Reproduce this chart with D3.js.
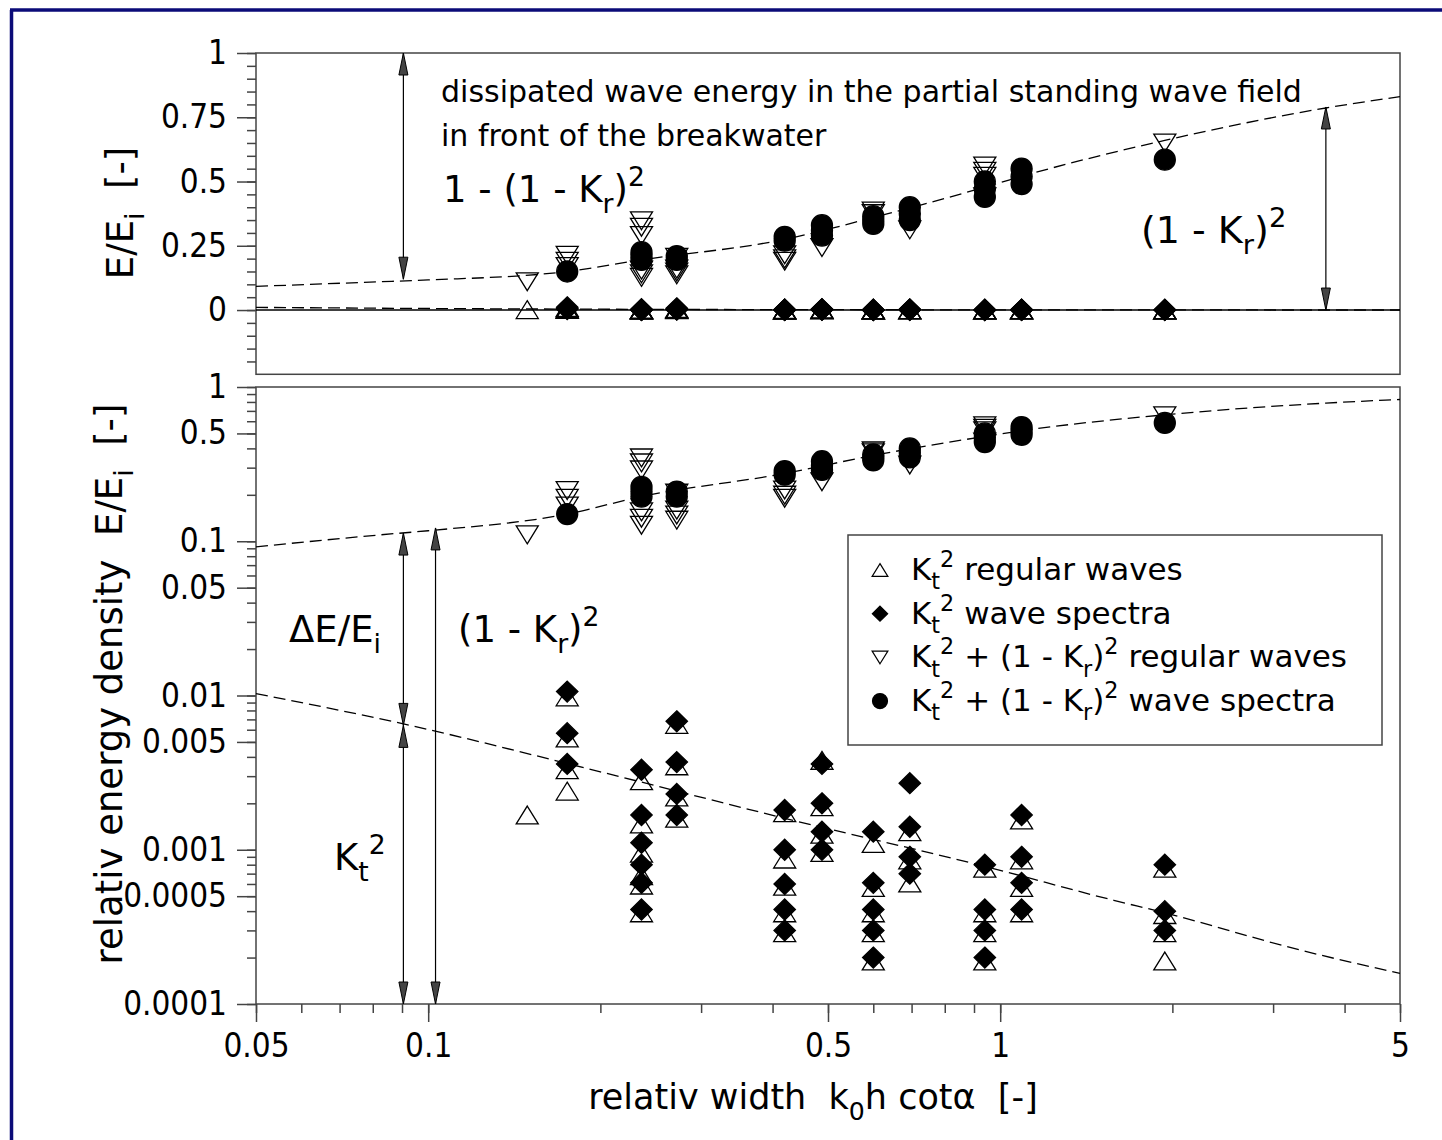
<!DOCTYPE html>
<html>
<head>
<meta charset="utf-8">
<script src="https://cdn.jsdelivr.net/npm/d3@7"></script>
<style>
  body { margin: 0; background: #fff; }
  svg text { font-family: "DejaVu Sans", sans-serif; fill: #000; white-space: pre; }
  svg .tick text { font-family: "DejaVu Sans Condensed", "DejaVu Sans", sans-serif; font-stretch: condensed; }
</style>
</head>
<body>
<svg id="chart" width="1442" height="1140"></svg>
<script>
// column positions (k0h cot alpha) of the test series
var colX = [0.149, 0.175, 0.236, 0.272, 0.42, 0.488, 0.60, 0.695, 0.94, 1.09, 1.94];

// Kt^2 regular waves (open up-triangles)
var ktRegular = [
  [0.00168],
  [0.0098, 0.0053, 0.0033, 0.0024],
  [0.0028, 0.00147, 0.00095, 0.00068, 0.00059, 0.00039],
  [0.0065, 0.0035, 0.0022, 0.0016],
  [0.00174, 0.00087, 0.00058, 0.00039, 0.00029],
  [0.0038, 0.0019, 0.00126, 0.00096],
  [0.0011, 0.00057, 0.00039, 0.00029, 0.00019],
  [0.00131, 0.00086, 0.00061],
  [0.00076, 0.00039, 0.00029, 0.00019],
  [0.00156, 0.00086, 0.00057, 0.00039],
  [0.00076, 0.00038, 0.00029, 0.00019]
];

// Kt^2 wave spectra (filled diamonds)
var ktSpectra = [
  [],
  [0.0106, 0.0057, 0.0036],
  [0.0033, 0.00168, 0.00111, 0.0008, 0.00061, 0.00041],
  [0.0068, 0.0037, 0.0023, 0.00168],
  [0.00181, 0.001, 0.0006, 0.00041, 0.0003],
  [0.0036, 0.002, 0.00131, 0.001],
  [0.00131, 0.00061, 0.00041, 0.0003, 0.0002],
  [0.0027, 0.00141, 0.0009, 0.0007],
  [0.0008, 0.00041, 0.0003, 0.0002],
  [0.00168, 0.0009, 0.00061, 0.00041],
  [0.0008, 0.0004, 0.0003]
];

// Kt^2 + (1-Kr)^2 regular waves (open down-triangles)
var sumRegular = [
  [0.11],
  [0.213, 0.19, 0.169],
  [0.347, 0.322, 0.29, 0.155, 0.141, 0.127],
  [0.205, 0.159, 0.148, 0.137],
  [0.215, 0.199, 0.19],
  [0.243],
  [0.385, 0.375],
  [0.312],
  [0.56, 0.54, 0.52, 0.44],
  [],
  [0.65]
];

// Kt^2 + (1-Kr)^2 wave spectra (filled circles)
var sumSpectra = [
  [],
  [0.15],
  [0.225, 0.21, 0.195],
  [0.21, 0.195],
  [0.285, 0.27],
  [0.33, 0.31, 0.29],
  [0.365, 0.35, 0.335],
  [0.40, 0.375, 0.35],
  [0.5, 0.47, 0.44],
  [0.55, 0.52, 0.49],
  [0.585]
];

// dashed trend curves
var upperCurveX = [0.05, 0.0824, 0.1, 0.175, 0.236, 0.42, 0.6, 0.94, 1.09, 1.94, 3.71, 5];
var upperCurveY = [0.092, 0.110, 0.117, 0.15, 0.195, 0.275, 0.36, 0.478, 0.52, 0.66, 0.786, 0.83];
var lowerCurveX = [0.05, 0.093, 0.2, 0.42, 0.94, 1.58, 1.94, 3.34, 5];
var lowerCurveY = [0.0103, 0.0064, 0.0032, 0.0016, 0.00078, 0.00047, 0.00039, 0.000224, 0.000158];

// tick labels
var xTickLabels = [0.05, 0.1, 0.5, 1, 5];
var topTickLabels = [0, 0.25, 0.5, 0.75, 1];
var botTickLabels = [0.0001, 0.0005, 0.001, 0.005, 0.01, 0.05, 0.1, 0.5, 1];

var FS = 33; // tick label size

var svg = d3.select("#chart");

var x = d3.scaleLog().domain([0.05, 5]).range([256, 1400]);
var yTop = d3.scaleLinear().domain([-0.25, 1]).range([374.3, 53]);
var yBot = d3.scaleLog().domain([0.0001, 1]).range([1004, 387]);

// navy frame (top and left only)
svg.append("line").attr("x1", 10).attr("x2", 1442).attr("y1", 10).attr("y2", 10)
  .attr("stroke", "#0b0b78").attr("stroke-width", 3.5);
svg.append("line").attr("x1", 11.5).attr("x2", 11.5).attr("y1", 10).attr("y2", 1140)
  .attr("stroke", "#0b0b78").attr("stroke-width", 3.5);

// write text with sub/superscripts
function richText(sel, px, py, parts, size, anchor, rotate) {
  var t = sel.append("text").attr("x", px).attr("y", py).style("font-size", size + "px");
  if (anchor) t.attr("text-anchor", anchor);
  if (rotate) t.attr("transform", "rotate(-90," + px + "," + py + ")");
  var cur = 0;
  parts.forEach(function(p) {
    var s = (typeof p === "string") ? { t: p } : p;
    var off = 0, fs = size;
    if (s.sub) { off = 0.3 * size; fs = 0.72 * size; }
    if (s.sup) { off = -0.42 * size; fs = 0.72 * size; }
    t.append("tspan").attr("dy", off - cur).style("font-size", fs + "px").text(s.t);
    cur = off;
  });
  return t;
}

function minorLog(lo, hi) {
  var out = [];
  for (var e = lo; e < hi; e++) {
    for (var m = 1; m < 10; m++) out.push(m * Math.pow(10, e));
  }
  out.push(Math.pow(10, hi));
  return out;
}

// ---------- axes ----------
var axisColor = "#444";

function styleAxis(g) {
  g.select(".domain").remove();
  g.selectAll("line").attr("stroke", axisColor).attr("stroke-width", 1.5);
  g.selectAll("text").style("font-size", FS + "px");
}

// top panel y
var topMinor = d3.range(-4, 21).map(function(i) { return i * 0.05; });
svg.append("g").attr("transform", "translate(256,0)")
  .call(d3.axisLeft(yTop).tickValues(topMinor).tickSize(9).tickFormat(""))
  .call(styleAxis);
svg.append("g").attr("transform", "translate(256,0)")
  .call(d3.axisLeft(yTop).tickValues(topTickLabels).tickSize(19).tickPadding(10)
    .tickFormat(function(d) { return d3.format("")(d); }))
  .call(styleAxis);

// bottom panel y
svg.append("g").attr("transform", "translate(256,0)")
  .call(d3.axisLeft(yBot).tickValues(minorLog(-4, 0)).tickSize(9).tickFormat(""))
  .call(styleAxis);
svg.append("g").attr("transform", "translate(256,0)")
  .call(d3.axisLeft(yBot).tickValues(botTickLabels).tickSize(19).tickPadding(10)
    .tickFormat(function(d) { return String(d); }))
  .call(styleAxis);

// x axis (bottom panel)
var xMinor = [0.05, 0.06, 0.07, 0.08, 0.09, 0.1, 0.2, 0.3, 0.4, 0.5, 0.6, 0.7, 0.8, 0.9, 1, 2, 3, 4, 5];
svg.append("g").attr("transform", "translate(0,1004)")
  .call(d3.axisBottom(x).tickValues(xMinor).tickSize(9).tickFormat(""))
  .call(styleAxis);
svg.append("g").attr("transform", "translate(0,1004)")
  .call(d3.axisBottom(x).tickValues(xTickLabels).tickSize(18).tickPadding(12)
    .tickFormat(function(d) { return String(d); }))
  .call(styleAxis);

// panel frames
svg.append("rect").attr("x", 256).attr("y", yTop(1)).attr("width", 1144).attr("height", yTop(-0.25) - yTop(1))
  .attr("fill", "none").attr("stroke", axisColor).attr("stroke-width", 1.5);
svg.append("rect").attr("x", 256).attr("y", yBot(1)).attr("width", 1144).attr("height", yBot(0.0001) - yBot(1))
  .attr("fill", "none").attr("stroke", axisColor).attr("stroke-width", 1.5);

// zero line
svg.append("line").attr("x1", x(0.05)).attr("x2", x(5)).attr("y1", yTop(0)).attr("y2", yTop(0))
  .attr("stroke", "#000").attr("stroke-width", 1.6);

// ---------- curves ----------
function curvePoints(xs, ys) {
  return xs.map(function(d, i) { return [d, ys[i]]; });
}
function drawCurve(yScale, pts) {
  var line = d3.line()
    .x(function(d) { return x(d[0]); })
    .y(function(d) { return yScale(d[1]); })
    .curve(d3.curveMonotoneX);
  svg.append("path").attr("d", line(pts))
    .attr("fill", "none").attr("stroke", "#000").attr("stroke-width", 1.3)
    .attr("stroke-dasharray", "12,6");
}
var upperPts = curvePoints(upperCurveX, upperCurveY);
var lowerPts = curvePoints(lowerCurveX, lowerCurveY);
drawCurve(yTop, upperPts);
drawCurve(yTop, lowerPts);
drawCurve(yBot, upperPts);
drawCurve(yBot, lowerPts);

// ---------- markers ----------
function flatten(arr) {
  var out = [];
  arr.forEach(function(vals, i) {
    vals.forEach(function(v) { out.push({ x: colX[i], v: v }); });
  });
  return out;
}

var shapes = {
  up: function(s) { var w = s * 1.05, h = s * 0.85; return "M0," + (-h / 2) + "L" + (w / 2) + "," + (h / 2) + "L" + (-w / 2) + "," + (h / 2) + "Z"; },
  down: function(s) { var w = s * 1.05, h = s * 0.85; return "M0," + (h / 2) + "L" + (w / 2) + "," + (-h / 2) + "L" + (-w / 2) + "," + (-h / 2) + "Z"; },
  diamond: function(s) { var w = s * 1.02, h = s; return "M0," + (-h / 2) + "L" + (w / 2) + ",0L0," + (h / 2) + "L" + (-w / 2) + ",0Z"; },
  circle: function(s) { var r = s / 2; return "M" + (-r) + ",0A" + r + "," + r + " 0 1,0 " + r + ",0A" + r + "," + r + " 0 1,0 " + (-r) + ",0Z"; }
};

var series = [
  { data: ktRegular, shape: "up", fill: "none" },
  { data: ktSpectra, shape: "diamond", fill: "#000" },
  { data: sumRegular, shape: "down", fill: "none" },
  { data: sumSpectra, shape: "circle", fill: "#000" }
];

[yTop, yBot].forEach(function(yScale) {
  series.forEach(function(s) {
    svg.append("g").selectAll("path")
      .data(flatten(s.data))
      .enter().append("path")
      .attr("transform", function(d) { return "translate(" + x(d.x) + "," + yScale(d.v) + ")"; })
      .attr("d", shapes[s.shape](21))
      .attr("fill", s.fill)
      .attr("stroke", "#000")
      .attr("stroke-width", 1.3);
  });
});

// ---------- arrows ----------
function arrowHead(px, tipY, dir) {
  // dir = +1 head pointing down, -1 pointing up
  var len = 22, hw = 4.5;
  svg.append("path")
    .attr("d", "M" + px + "," + tipY + "L" + (px - hw) + "," + (tipY - dir * len) + "L" + (px + hw) + "," + (tipY - dir * len) + "Z")
    .attr("fill", "#444").attr("stroke", "#000").attr("stroke-width", 1);
}
function dblArrow(px, yA, yB) {
  svg.append("line").attr("x1", px).attr("x2", px).attr("y1", yA).attr("y2", yB)
    .attr("stroke", "#000").attr("stroke-width", 1.2);
  arrowHead(px, yA, -1);
  arrowHead(px, yB, 1);
}
dblArrow(x(0.0905), yTop(1), yTop(0.12));
dblArrow(x(3.71), yTop(0.79), yTop(0));
dblArrow(x(0.0905), yBot(0.113), yBot(0.0064));
dblArrow(x(0.0905), yBot(0.0064), yBot(0.0001));
dblArrow(x(0.103), yBot(0.122), yBot(0.0001));

// ---------- annotations ----------
var note = svg.append("g");
note.append("text").attr("x", 441).attr("y", 102).style("font-size", "30px")
  .text("dissipated wave energy in the partial standing wave field");
note.append("text").attr("x", 441).attr("y", 146).style("font-size", "30px")
  .text("in front of the breakwater");
richText(note, 443, 202, ["1 - (1 - K", { t: "r", sub: true }, ")", { t: "2", sup: true }], 37);
richText(note, 1141, 243, ["(1 - K", { t: "r", sub: true }, ")", { t: "2", sup: true }], 38);
richText(note, 289, 642, ["\u0394E/E", { t: "i", sub: true }], 37);
richText(note, 458, 642, ["(1 - K", { t: "r", sub: true }, ")", { t: "2", sup: true }], 37);
richText(note, 334, 870, ["K", { t: "t", sub: true }, { t: "2", sup: true }], 37);

// axis titles
richText(svg, 133, 213, ["E/E", { t: "i", sub: true }, "  [-]"], 37, "middle", true);
richText(svg, 122, 684, ["relativ energy density  E/E", { t: "i", sub: true }, "  [-]"], 37, "middle", true);
richText(svg, 813, 1109, ["relativ width  k", { t: "0", sub: true }, "h cot\u03b1  [-]"], 35, "middle");

// ---------- legend ----------
var legend = svg.append("g");
legend.append("rect").attr("x", 848).attr("y", 535).attr("width", 534).attr("height", 210)
  .attr("fill", "#fff").attr("stroke", axisColor).attr("stroke-width", 1.5);
var legendRows = [
  { shape: "up", fill: "none", parts: ["K", { t: "t", sub: true }, { t: "2", sup: true }, " regular waves"] },
  { shape: "diamond", fill: "#000", parts: ["K", { t: "t", sub: true }, { t: "2", sup: true }, " wave spectra"] },
  { shape: "down", fill: "none", parts: ["K", { t: "t", sub: true }, { t: "2", sup: true }, " + (1 - K", { t: "r", sub: true }, ")", { t: "2", sup: true }, " regular waves"] },
  { shape: "circle", fill: "#000", parts: ["K", { t: "t", sub: true }, { t: "2", sup: true }, " + (1 - K", { t: "r", sub: true }, ")", { t: "2", sup: true }, " wave spectra"] }
];
legendRows.forEach(function(r, i) {
  var cy = 570 + i * 43.7;
  legend.append("path").attr("transform", "translate(880," + cy + ")")
    .attr("d", shapes[r.shape](15)).attr("fill", r.fill).attr("stroke", "#000").attr("stroke-width", 1.2);
  richText(legend, 911, cy + 10, r.parts, 31);
});
</script>
</body>
</html>
